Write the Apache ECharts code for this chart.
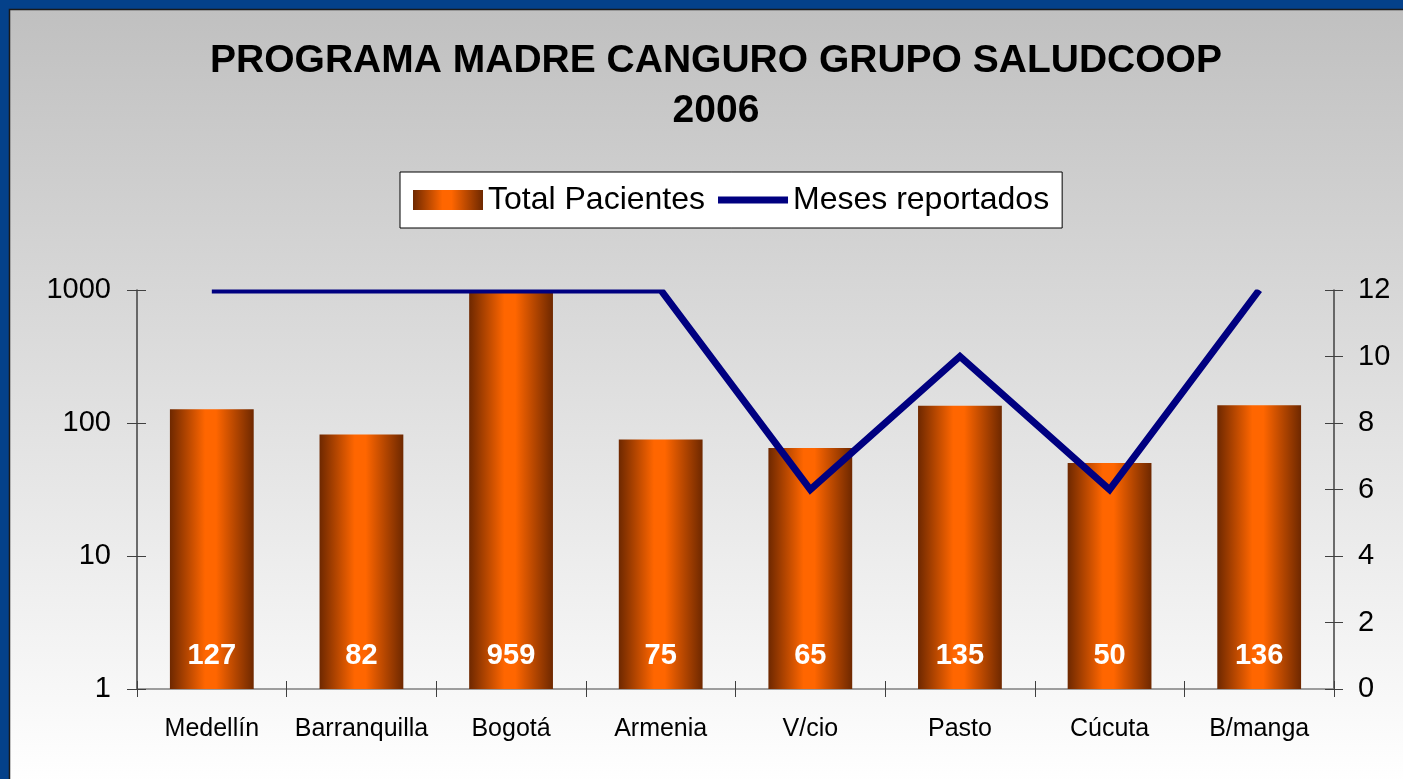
<!DOCTYPE html>
<html>
<head>
<meta charset="utf-8">
<script src="https://cdn.jsdelivr.net/npm/echarts@6/dist/echarts.min.js"></script>
<style>
html,body{margin:0;padding:0;background:#04418a;}
#c{width:1403px;height:779px;}
</style>
</head>
<body>
<div id="c"></div>
<script>
const categories = ['Medellín','Barranquilla','Bogotá','Armenia','V/cio','Pasto','Cúcuta','B/manga'];
const totalPacientes = [127,82,959,75,65,135,50,136];
const mesesReportados = [12,12,12,12,6,10,6,12];
const leftMin = 1, leftMax = 1000;
const rightMin = 0, rightMax = 12, rightStep = 2;
const titleText = 'PROGRAMA MADRE CANGURO GRUPO SALUDCOOP\n2006';
const seriesNames = ['Total Pacientes','Meses reportados'];

const FONT = '"Liberation Sans", Arial, sans-serif';
const barGrad = new echarts.graphic.LinearGradient(0,0,1,0,[
  {offset:0,color:'#6e2800'},
  {offset:0.42,color:'#ff6600'},
  {offset:0.55,color:'#ff6600'},
  {offset:1,color:'#6e2800'}
]);
function panelGrad(){
  return new echarts.graphic.LinearGradient(0,9.5,0,784.5,[
    {offset:0,color:'#c0c0c0'},
    {offset:1,color:'#ffffff'}
  ], true);
}

const chart = echarts.init(document.getElementById('c'), null, {renderer:'canvas'});
const option = {
  backgroundColor:'#04418a',
  animation:false,
  graphic:[{
    type:'rect', silent:true, z:-10,
    shape:{x:9.5,y:9.5,width:1400,height:775},
    style:{fill:panelGrad(), stroke:'#1a1a1a', lineWidth:1.5}
  },{
    // plot-area top edge: hides the part of the line drawn above the plot area
    type:'rect', silent:true, z:50,
    shape:{x:138,y:284,width:1195,height:5.5},
    style:{fill:panelGrad()}
  }],
  title:{
    text:titleText,
    left:716, top:36, padding:0,
    textAlign:'center',
    textStyle:{fontFamily:FONT,fontSize:39,fontWeight:'bold',color:'#000',lineHeight:50}
  },
  legend:{
    left:400, top:172,
    padding:[12,13],
    itemGap:13,
    itemWidth:70, itemHeight:20,
    backgroundColor:'#ffffff',
    borderColor:'#000', borderWidth:1, borderRadius:0,
    textStyle:{fontFamily:FONT,fontSize:32,color:'#000'},
    data:[
      {name:seriesNames[0],icon:'rect'},
      {name:seriesNames[1],icon:'path://M0,0 L70,0 L70,7 L0,7 Z',itemStyle:{color:'#000080'}}
    ]
  },
  grid:{left:137,right:69,top:290,bottom:90,containLabel:false},
  xAxis:[{
    type:'category', data:categories, position:'bottom',
    axisLine:{lineStyle:{color:'#808080',width:1.5}},
    axisTick:{show:true,length:8,lineStyle:{color:'#404040'}},
    axisLabel:{fontFamily:FONT,fontSize:25,color:'#000',margin:28,interval:0,hideOverlap:false}
  },{
    type:'category', data:categories, position:'bottom',
    axisLine:{show:false},
    axisTick:{show:true,inside:true,length:8,lineStyle:{color:'#404040'}},
    axisLabel:{show:false}
  }],
  yAxis:[{
    type:'log', logBase:10, min:leftMin, max:leftMax, position:'left',
    axisLine:{show:true,lineStyle:{color:'#404040',width:1.5}},
    axisTick:{show:true,length:10,lineStyle:{color:'#404040'}},
    splitLine:{show:false},
    axisLabel:{fontFamily:FONT,fontSize:29,color:'#000',margin:26,formatter:v=>String(Math.round(v))}
  },{
    type:'value', min:rightMin, max:rightMax, interval:rightStep, position:'right',
    axisLine:{show:true,lineStyle:{color:'#404040',width:1.5}},
    axisTick:{show:true,length:9,lineStyle:{color:'#404040'}},
    splitLine:{show:false},
    axisLabel:{fontFamily:FONT,fontSize:29,color:'#000',margin:24}
  },{
    type:'log', logBase:10, min:leftMin, max:leftMax, position:'left',
    axisLine:{show:false},
    axisTick:{show:true,inside:true,length:9,lineStyle:{color:'#404040'}},
    splitLine:{show:false}, axisLabel:{show:false}
  },{
    type:'value', min:rightMin, max:rightMax, interval:rightStep, position:'right',
    axisLine:{show:false},
    axisTick:{show:true,inside:true,length:9,lineStyle:{color:'#404040'}},
    splitLine:{show:false}, axisLabel:{show:false}
  }],
  series:[{
    name:seriesNames[0], type:'bar', data:totalPacientes,
    xAxisIndex:0, yAxisIndex:0,
    barWidth:'56%',
    itemStyle:{color:barGrad},
    label:{show:true,position:'insideBottom',distance:19,color:'#fff',
      fontFamily:FONT,fontSize:29,fontWeight:'bold'}
  },{
    name:seriesNames[1], type:'line', data:mesesReportados,
    xAxisIndex:0, yAxisIndex:1,
    symbol:'none', showSymbol:false,
    lineStyle:{color:'#000080',width:7,join:'miter'},
    itemStyle:{color:'#000080'},
    z:5
  }]
};
chart.setOption(option);
</script>
</body>
</html>
